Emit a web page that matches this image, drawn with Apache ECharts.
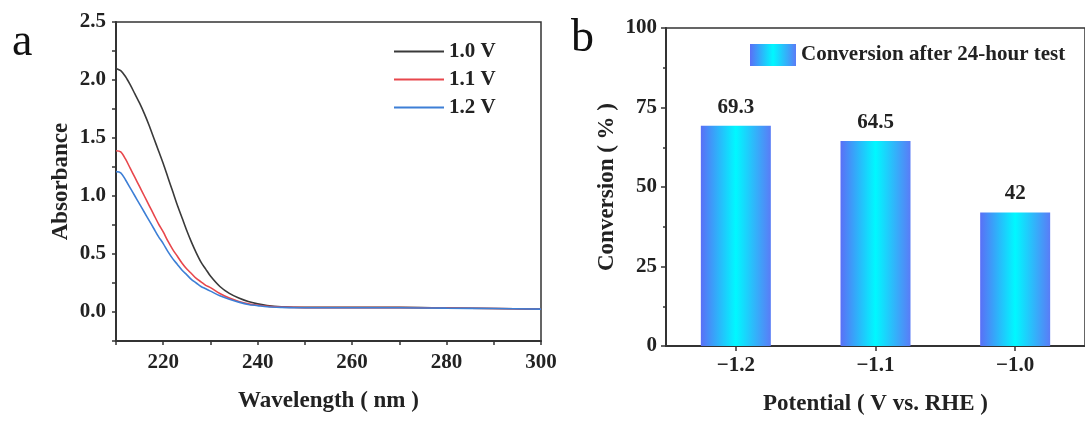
<!DOCTYPE html>
<html>
<head>
<meta charset="utf-8">
<script src="https://cdn.jsdelivr.net/npm/echarts@6/dist/echarts.min.js"></script>
<style>
html,body{margin:0;padding:0;background:#fff;}
#c{width:1085px;height:421px;}
</style>
</head>
<body>
<div id="c"></div>
<script>
// ---- Panel a data (UV-vis absorbance) ----
const wavelengths = [210,211,212,213,214,215,216,217,218,219,220,221,222,223,224,225,226,227,228,229,230,232,234,236,238,240,242,245,250,260,270,280,290,300];
const abs10V = [2.10,2.08,2.03,1.96,1.88,1.80,1.71,1.61,1.50,1.39,1.28,1.16,1.04,0.92,0.81,0.70,0.60,0.51,0.43,0.37,0.31,0.22,0.16,0.12,0.09,0.07,0.055,0.045,0.04,0.04,0.04,0.035,0.03,0.025];
const abs11V = [1.39,1.38,1.32,1.24,1.16,1.08,1.00,0.92,0.84,0.76,0.69,0.61,0.54,0.48,0.42,0.37,0.33,0.29,0.26,0.23,0.21,0.16,0.12,0.09,0.07,0.06,0.05,0.042,0.038,0.038,0.038,0.034,0.03,0.025];
const abs12V = [1.21,1.20,1.14,1.07,1.00,0.93,0.86,0.79,0.72,0.65,0.59,0.52,0.46,0.41,0.36,0.32,0.28,0.25,0.22,0.20,0.18,0.14,0.11,0.085,0.065,0.055,0.045,0.04,0.036,0.036,0.036,0.033,0.03,0.025];
const lineNames = ['1.0 V','1.1 V','1.2 V'];

// ---- Panel b data (conversion) ----
const potentials = ['\u22121.2','\u22121.1','\u22121.0'];
const conversion = [69.3, 64.5, 42];
const barName = 'Conversion after 24-hour test';

const FONT = "'Liberation Serif','Times New Roman',serif";
const AX = '#333';

function pairs(xs, ys){ return xs.map((x,i)=>[x, ys[i]]); }

const barGradient = new echarts.graphic.LinearGradient(0,0,1,0,[
  {offset:0, color:'#5a6ff6'},
  {offset:0.5, color:'#00f8ff'},
  {offset:1, color:'#5a7cf6'}
]);

const chart = echarts.init(document.getElementById('c'), null, {renderer:'canvas'});
chart.setOption({
  backgroundColor:'#fff',
  animation:false,
  textStyle:{fontFamily:FONT},
  grid:[
    {left:116, right:544, top:22, bottom:80, show:true, borderColor:AX, borderWidth:1.5, backgroundColor:'transparent'},
    {left:666, right:-6, top:28, bottom:73, show:true, borderColor:AX, borderWidth:1.5, backgroundColor:'transparent'}
  ],
  legend:[
    {
      data:lineNames, orient:'vertical', left:389, top:36, itemWidth:50, itemHeight:2, itemGap:7,
      icon:'rect',
      textStyle:{fontFamily:FONT, fontWeight:'bold', fontSize:21, color:'#222'}
    },
    {
      data:[barName], left:745, top:39, itemWidth:46, itemHeight:22, icon:'rect',
      textStyle:{fontFamily:FONT, fontWeight:'bold', fontSize:21, color:'#222'}
    }
  ],
  xAxis:[
    {
      type:'value', gridIndex:0, min:210, max:300, interval:10,
      name:'Wavelength ( nm )', nameLocation:'middle', nameGap:49,
      nameTextStyle:{fontFamily:FONT, fontWeight:'bold', fontSize:23, color:'#222'},
      axisLine:{show:true, onZero:false, lineStyle:{color:AX, width:2}},
      axisTick:{show:true, length:4, lineStyle:{color:AX, width:1.5}},
      axisLabel:{margin:11, fontFamily:FONT, fontWeight:'bold', fontSize:21, color:'#222',
        formatter:function(v){ return (v % 20 === 0) ? String(v) : ''; }},
      splitLine:{show:false}
    },
    {
      type:'category', gridIndex:1, data:potentials,
      name:'Potential ( V vs. RHE )', nameLocation:'middle', nameGap:47,
      nameTextStyle:{fontFamily:FONT, fontWeight:'bold', fontSize:23, color:'#222'},
      axisLine:{show:true, onZero:false, lineStyle:{color:AX, width:2}},
      axisTick:{show:true, alignWithLabel:true, length:5, lineStyle:{color:AX, width:1.5}},
      axisLabel:{margin:9, fontFamily:FONT, fontWeight:'bold', fontSize:21, color:'#222'}
    }
  ],
  yAxis:[
    {
      type:'value', gridIndex:0, min:-0.25, max:2.5, interval:0.25,
      name:'Absorbance', nameLocation:'middle', nameGap:43,
      nameTextStyle:{fontFamily:FONT, fontWeight:'bold', fontSize:23, color:'#222'},
      axisLine:{show:true, onZero:false, lineStyle:{color:AX, width:2}},
      axisTick:{show:true, length:4, lineStyle:{color:AX, width:1.5}},
      axisLabel:{margin:10, fontFamily:FONT, fontWeight:'bold', fontSize:21, color:'#222',
        formatter:function(v){ const d = v*2; return (Math.abs(d - Math.round(d)) < 1e-6) ? v.toFixed(1) : ''; }},
      splitLine:{show:false}
    },
    {
      type:'value', gridIndex:1, min:0, max:100, interval:25,
      name:'Conversion ( % )', nameLocation:'middle', nameGap:47,
      nameTextStyle:{fontFamily:FONT, fontWeight:'bold', fontSize:23, color:'#222'},
      axisLine:{show:true, onZero:false, lineStyle:{color:AX, width:2}},
      axisTick:{show:true, length:5, lineStyle:{color:AX, width:1.5}},
      minorTick:{show:true, splitNumber:2, length:3, lineStyle:{color:AX, width:1.5}},
      axisLabel:{margin:9, fontFamily:FONT, fontWeight:'bold', fontSize:21, color:'#222'},
      splitLine:{show:false}, minorSplitLine:{show:false}
    }
  ],
  series:[
    {name:lineNames[0], type:'line', xAxisIndex:0, yAxisIndex:0, data:pairs(wavelengths, abs10V),
      smooth:0.3, showSymbol:false, symbol:'none', color:'#3a3a3a', lineStyle:{width:1.6}, z:3},
    {name:lineNames[1], type:'line', xAxisIndex:0, yAxisIndex:0, data:pairs(wavelengths, abs11V),
      smooth:0.3, showSymbol:false, symbol:'none', color:'#e8474c', lineStyle:{width:1.6}, z:4},
    {name:lineNames[2], type:'line', xAxisIndex:0, yAxisIndex:0, data:pairs(wavelengths, abs12V),
      smooth:0.3, showSymbol:false, symbol:'none', color:'#3d7fd6', lineStyle:{width:1.6}, z:5},
    {name:barName, type:'bar', xAxisIndex:1, yAxisIndex:1, data:conversion, barWidth:70,
      itemStyle:{color:barGradient},
      label:{show:true, position:'top', distance:8, fontFamily:FONT, fontWeight:'bold', fontSize:21, color:'#222'}}
  ],
  graphic:[
    {type:'text', left:12, top:20, style:{text:'a', font:"46px 'Liberation Serif', serif", fill:'#111'}},
    {type:'text', left:571, top:16, style:{text:'b', font:"46px 'Liberation Serif', serif", fill:'#111'}}
  ]
});
</script>
</body>
</html>
